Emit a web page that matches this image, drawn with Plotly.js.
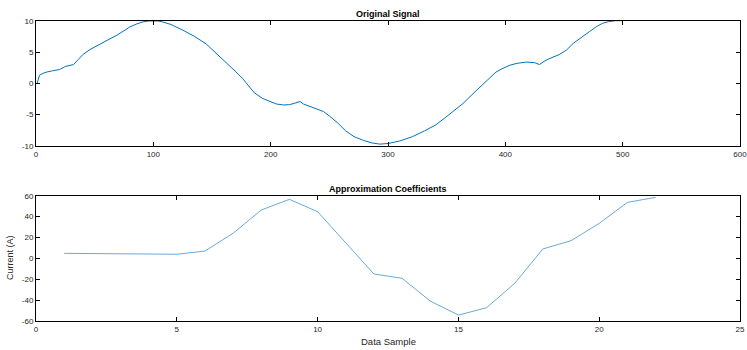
<!DOCTYPE html>
<html>
<head>
<meta charset="utf-8">
<script src="https://cdn.plot.ly/plotly-3.0.1.min.js"></script>
<style>html,body{margin:0;padding:0;background:#fff}#chart{width:747px;height:350px}</style>
</head>
<body>
<div id="chart"></div>
<script>
// Original signal (sample index, value)
const signalX = [1, 3, 6, 9, 14, 20, 25, 32, 36, 40, 46, 52, 56, 62, 69, 75, 80, 86, 91, 96, 100, 104, 108, 115, 125, 135, 145, 155, 162, 170, 176, 182, 186, 193, 200, 205, 211, 216, 220, 225, 228, 232, 238, 245, 250, 257, 264, 271, 279, 286, 293, 300, 310, 321, 331, 341, 352, 364, 375, 386, 392, 398, 404, 410, 418, 425, 429, 433, 437, 446, 452, 458, 465, 472, 478, 483, 488, 494, 500];
const signalY = [0, 1.3, 1.6, 1.8, 2.0, 2.2, 2.7, 3.0, 3.8, 4.6, 5.4, 6.0, 6.3, 7.0, 7.7, 8.4, 9.0, 9.5, 9.8, 9.95, 10.0, 9.95, 9.8, 9.4, 8.5, 7.5, 6.3, 4.6, 3.3, 1.9, 0.8, -0.6, -1.5, -2.4, -3.0, -3.3, -3.45, -3.4, -3.2, -2.9, -3.3, -3.6, -4.0, -4.5, -5.2, -6.3, -7.6, -8.5, -9.1, -9.5, -9.7, -9.6, -9.2, -8.5, -7.6, -6.6, -5.0, -3.2, -1.2, 0.8, 1.8, 2.4, 2.9, 3.2, 3.4, 3.3, 3.0, 3.5, 3.9, 4.6, 5.3, 6.4, 7.4, 8.3, 9.1, 9.6, 9.85, 10.0, 10.0];

// Approximation coefficients
const coefX = [1, 2, 3, 4, 5, 6, 7, 8, 9, 10, 11, 12, 13, 14, 15, 16, 17, 18, 19, 20, 21, 22];
const coefY = [4.8, 4.7, 4.6, 4.6, 3.9, 7.0, 24, 46.3, 56.5, 44.7, 14.4, -15, -19.1, -40.9, -54.3, -47.3, -23.9, 9, 16.9, 33.5, 53.6, 58.4];

const topXTicks = [0, 100, 200, 300, 400, 500, 600];
const topYTicks = [-10, -5, 0, 5, 10];
const botXTicks = [0, 5, 10, 15, 20, 25];
const botYTicks = [-60, -40, -20, 0, 20, 40, 60];

const titles = ['Original Signal', 'Approximation Coefficients'];
const xLabel = 'Data Sample';
const yLabel = 'Current (A)';

const W = 747, H = 350;
const fontFam = 'Liberation Sans, Arial, sans-serif';
const tickFont = {family: fontFam, size: 8, color: '#262626'};

function axisBase(tickvals, range) {
  return {
    range: range, tickvals: tickvals, ticktext: tickvals.map(String),
    ticks: 'inside', ticklen: 4, tickwidth: 1, tickcolor: '#000',
    showline: true, linecolor: '#000', linewidth: 1, mirror: 'ticks',
    showgrid: false, zeroline: false, tickfont: tickFont, fixedrange: true,
    ticklabeloverflow: 'allow'
  };
}

const xDom = [36 / W, 740 / W];
const traces = [
  {x: signalX, y: signalY, type: 'scatter', mode: 'lines',
   line: {color: '#0072BD', width: 1.0}, xaxis: 'x', yaxis: 'y', hoverinfo: 'skip'},
  {x: coefX, y: coefY, type: 'scatter', mode: 'lines',
   line: {color: '#2a83c6', width: 0.7}, xaxis: 'x2', yaxis: 'y2', hoverinfo: 'skip'}
];

const layout = {
  width: W, height: H,
  margin: {l: 0, r: 0, t: 0, b: 0},
  paper_bgcolor: '#fff', plot_bgcolor: '#fff',
  showlegend: false,
  xaxis: Object.assign(axisBase(topXTicks, [0, 600]), {domain: xDom, anchor: 'y'}),
  yaxis: Object.assign(axisBase(topYTicks, [-10, 10]), {domain: [1 - 146 / H, 1 - 20.7 / H], anchor: 'x'}),
  xaxis2: Object.assign(axisBase(botXTicks, [0, 25]), {domain: xDom, anchor: 'y2'}),
  yaxis2: Object.assign(axisBase(botYTicks, [-60, 60]), {domain: [1 - 321 / H, 1 - 195.7 / H], anchor: 'x2'}),
  annotations: [
    {text: '<b>' + titles[0] + '</b>', xref: 'paper', yref: 'paper', x: 388 / W, y: 1 - 13.5 / H,
     showarrow: false, xanchor: 'center', yanchor: 'middle', font: {family: fontFam, size: 9, color: '#000'}},
    {text: '<b>' + titles[1] + '</b>', xref: 'paper', yref: 'paper', x: 388 / W, y: 1 - 188.7 / H,
     showarrow: false, xanchor: 'center', yanchor: 'middle', font: {family: fontFam, size: 9, color: '#000'}},
    {text: xLabel, xref: 'paper', yref: 'paper', x: 388 / W, y: 1 - 341 / H,
     showarrow: false, xanchor: 'center', yanchor: 'middle', font: {family: fontFam, size: 9.5, color: '#262626'}},
    {text: yLabel, xref: 'paper', yref: 'paper', x: 10 / W, y: 1 - 258 / H, textangle: -90,
     showarrow: false, xanchor: 'center', yanchor: 'middle', font: {family: fontFam, size: 9, color: '#262626'}}
  ]
};

Plotly.newPlot('chart', traces, layout, {displayModeBar: false, staticPlot: true});
</script>
</body>
</html>
